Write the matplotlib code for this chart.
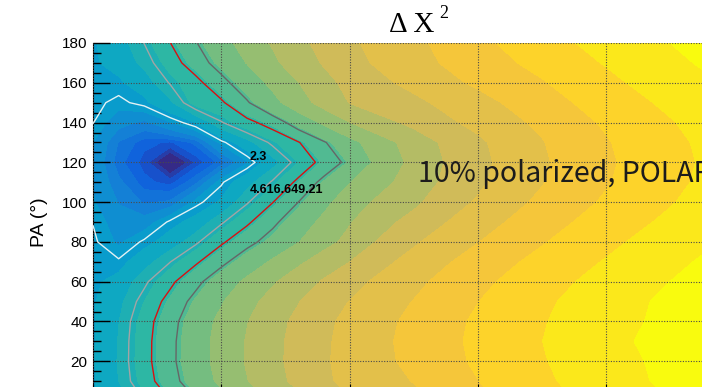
import numpy as np
import matplotlib
matplotlib.use("Agg")
import matplotlib.pyplot as plt
from matplotlib.colors import LinearSegmentedColormap, ListedColormap, BoundaryNorm
from matplotlib.ticker import MultipleLocator

plt.rcParams['font.family'] = ['Liberation Sans', 'DejaVu Sans']

# scan grid: polarization degree (columns) and position angle in degrees (rows)
pol = [0.0, 0.02, 0.04, 0.06, 0.08, 0.10, 0.12, 0.14, 0.16, 0.18, 0.20,
       0.25, 0.30, 0.35, 0.40, 0.45, 0.50]
pa = [0, 10, 20, 30, 40, 50, 60, 70, 80, 90, 100, 110, 120, 130, 140, 150, 160, 170, 180]

# delta chi-square, one row per position angle
dchi2 = [
    [2.6, 3.17, 4.64, 6.59, 9.03, 11.96, 15.4, 19.3, 23.7, 28.5, 33.9, 45.4, 62.5, 82.4, 105.1, 130.5, 158.8],
    [2.6, 3.72, 5.65, 8.09, 11.0, 14.5, 18.5, 23.0, 27.9, 33.4, 39.4, 49.9, 67.9, 88.7, 112.2, 138.6, 167.8],
    [2.6, 3.80, 5.91, 8.49, 11.57, 15.1, 19.2, 23.7, 28.7, 34.2, 40.2, 52.8, 71.4, 92.2, 115.2, 140.5, 168.0],
    [2.6, 3.77, 5.89, 8.48, 11.5, 15.1, 19.1, 23.6, 28.5, 33.9, 39.8, 53.8, 72.6, 94.1, 118.5, 145.7, 175.6],
    [2.6, 3.68, 5.71, 8.21, 11.2, 14.6, 18.5, 22.9, 27.8, 33.1, 38.9, 52.8, 71.4, 92.2, 115.2, 140.5, 168.0],
    [2.6, 3.39, 5.15, 7.38, 10.1, 13.2, 16.8, 20.9, 25.5, 30.5, 36.0, 49.9, 67.9, 88.7, 112.2, 138.6, 167.8],
    [2.55, 2.96, 4.33, 6.16, 8.44, 11.2, 14.4, 18.0, 22.1, 26.7, 31.7, 45.4, 62.5, 82.4, 105.1, 130.5, 158.8],
    [2.5, 2.38, 3.26, 4.56, 6.30, 8.47, 11.07, 14.1, 17.6, 21.5, 25.8, 39.9, 55.9, 74.7, 96.3, 120.7, 147.8],
    [2.4, 1.85, 2.4, 3.08, 4.32, 6.3, 8.3, 10.5, 13.4, 16.7, 20.4, 34.1, 48.9, 66.5, 87.0, 110.2, 136.2],
    [2.28, 1.62, 1.62, 2.4, 3.0, 4.39, 6.24, 8.55, 11.3, 14.6, 18.3, 28.6, 42.3, 58.9, 78.2, 100.3, 125.2],
    [2.0, 1.38, 0.97, 1.07, 2.1, 2.8, 4.43, 6.57, 9.21, 12.4, 16.0, 24.1, 37.0, 52.6, 71.0, 92.2, 116.3],
    [1.9, 1.11, 0.6, 0.45, 0.9, 2.2, 3.3, 4.75, 7.09, 9.99, 13.4, 21.2, 33.5, 48.5, 66.5, 87.0, 110.5],
    [1.85, 0.82, 0.45, 0.05, 0.4, 0.82, 1.85, 3.28, 5.13, 7.39, 10.05, 20.2, 32.3, 47.1, 64.7, 85.2, 108.4],
    [1.95, 0.99, 0.6, 0.5, 0.8, 2.1, 3.3, 4.9, 6.5, 8.93, 12.0, 21.2, 33.5, 48.5, 66.5, 87.0, 110.5],
    [2.32, 1.6, 1.3, 1.9, 2.7, 4.5, 6.0, 7.6, 10.7, 14.3, 18.6, 28.0, 39.0, 52.6, 71.0, 92.2, 116.3],
    [2.45, 2.15, 2.5, 3.5, 5.6, 6.3, 8.9, 12.2, 16.2, 20.8, 26.1, 33.0, 44.0, 58.9, 78.2, 100.3, 125.2],
    [2.55, 2.57, 3.13, 4.7, 5.98, 8.27, 11.1, 14.6, 18.6, 23.2, 28.3, 39.0, 52.0, 66.5, 87.0, 110.2, 136.2],
    [2.6, 2.95, 4.03, 5.65, 7.8, 10.5, 13.7, 17.5, 21.8, 26.6, 31.9, 43.8, 58.0, 74.7, 96.3, 120.7, 147.8],
    [2.6, 3.17, 4.64, 6.59, 9.03, 11.96, 15.4, 19.3, 23.7, 28.5, 33.9, 45.4, 62.5, 82.4, 105.1, 130.5, 158.8],
]

# confidence contours
contour_levels = [2.3, 4.61, 6.64, 9.21]
contour_colors = ['#e4f2f4', '#a4a4a4', '#d81010', '#666666']

# z range of the log colour scale, 20 bands
z_min, z_max, n_bands = 0.28, 180.0, 20

# ROOT kBird palette
bird_stops = [0.0, 0.125, 0.25, 0.375, 0.5, 0.625, 0.75, 0.875, 1.0]
bird_r = [0.2082, 0.0592, 0.0780, 0.0232, 0.1802, 0.5301, 0.8186, 0.9956, 0.9764]
bird_g = [0.1664, 0.3599, 0.5041, 0.6419, 0.7178, 0.7492, 0.7328, 0.7862, 0.9832]
bird_b = [0.5293, 0.8684, 0.8385, 0.7914, 0.6425, 0.4662, 0.3499, 0.1968, 0.0539]
bird = LinearSegmentedColormap.from_list(
    'bird', list(zip(bird_stops, zip(bird_r, bird_g, bird_b))))

levels = np.logspace(np.log10(z_min), np.log10(z_max), n_bands + 1)
band_cmap = ListedColormap([bird((i + 0.99) / n_bands) for i in range(n_bands)])
band_cmap.set_under(bird(0.0))
norm = BoundaryNorm(levels, band_cmap.N)

P, A = np.meshgrid(pol, pa)
Z = np.array(dchi2)

fig = plt.figure(figsize=(7.02, 3.87), dpi=100)
ax = fig.add_axes([93 / 702, 1 - 401 / 387, 641.5 / 702, 358 / 387])

ax.contourf(P, A, Z, levels=levels, cmap=band_cmap, norm=norm, extend='min', zorder=1)
ax.contour(P, A, Z, levels=contour_levels, colors=contour_colors, linewidths=1.0, zorder=3)

ax.set_xlim(0, 0.5)
ax.set_ylim(0, 180)
ax.set_xticks(np.arange(0, 0.51, 0.1))
ax.set_yticks(range(20, 181, 20))
ax.yaxis.set_minor_locator(MultipleLocator(5))
ax.tick_params(axis='y', which='major', direction='in', length=12, width=1.0,
               labelsize=11, pad=4)
ax.tick_params(axis='y', which='minor', direction='in', length=6, width=1.0)
ax.tick_params(axis='x', direction='in', length=12, labelbottom=False)

ax.grid(True, which='major', color='#4a4a4a', linestyle=(0, (1, 1.4)), linewidth=0.8)
ax.set_axisbelow(False)
for side in ('top', 'right', 'bottom'):
    ax.spines[side].set_visible(False)
ax.spines['left'].set_linewidth(0.8)

ax.set_ylabel('PA (°)', fontsize=14, labelpad=10)

# contour value labels
ax.text(0.1224, 122.7, f'{contour_levels[0]:g}', fontsize=9, fontweight='bold',
        va='center', ha='left', zorder=5)
ax.text(0.1224, 106.1, ''.join(f'{v:g}' for v in contour_levels[1:]), fontsize=9,
        fontweight='bold', va='center', ha='left', zorder=5)

ax.text(0.253, 110.3, '10% polarized, POLAR', fontsize=20.5, color='#1c1c1c',
        family=['Noto Sans CJK SC', 'DejaVu Sans'], va='baseline', ha='left', zorder=5)

fig.text(412 / 702, 1 - 25 / 387, 'Δ X', family='Liberation Serif', fontsize=21,
         ha='center', va='center')
fig.text(439 / 702, 1 - 14 / 387, '2', family='Liberation Serif', fontsize=13,
         ha='left', va='center')

fig.savefig('out.png', dpi=100)
